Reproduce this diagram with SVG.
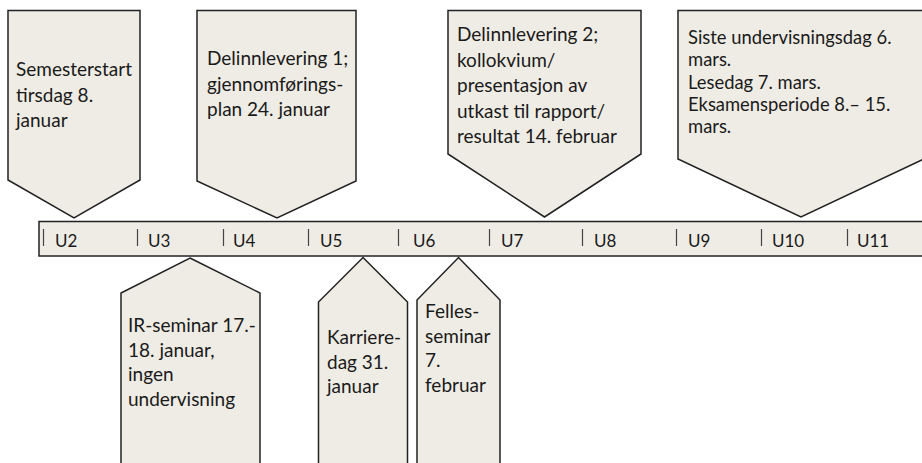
<svg xmlns="http://www.w3.org/2000/svg" width="922" height="463" viewBox="0 0 922 463">
<style>
.shape{fill:#EFECE5;stroke:#222;stroke-width:1.5;stroke-linejoin:miter}
.t{font-family:Lato,"Open Sans",sans-serif;font-size:19px;fill:#1a1a1a}
.t4{font-size:18.4px}
.u{font-family:Lato,"Open Sans",sans-serif;font-size:17px;fill:#1a1a1a}
.tick{stroke:#444;stroke-width:1.2}
</style>
<rect width="922" height="463" fill="#fff"/>
<g id="timeline">
<rect class="shape" x="39" y="221.5" width="900" height="34.5"/>
<g id="ticks">
<line class="tick" x1="43.5" y1="229" x2="43.5" y2="246"/>
<line class="tick" x1="137.5" y1="229" x2="137.5" y2="246"/>
<line class="tick" x1="223.5" y1="229" x2="223.5" y2="246"/>
<line class="tick" x1="308.5" y1="229" x2="308.5" y2="246"/>
<line class="tick" x1="398.5" y1="229" x2="398.5" y2="246"/>
<line class="tick" x1="489.5" y1="229" x2="489.5" y2="246"/>
<line class="tick" x1="582.5" y1="229" x2="582.5" y2="246"/>
<line class="tick" x1="676.5" y1="229" x2="676.5" y2="246"/>
<line class="tick" x1="761.5" y1="229" x2="761.5" y2="246"/>
<line class="tick" x1="847.5" y1="229" x2="847.5" y2="246"/>
</g>
<text class="u" x="55" y="247">U2</text>
<text class="u" x="148" y="247">U3</text>
<text class="u" x="233" y="247">U4</text>
<text class="u" x="320" y="247">U5</text>
<text class="u" x="413" y="247">U6</text>
<text class="u" x="501" y="247">U7</text>
<text class="u" x="594" y="247">U8</text>
<text class="u" x="688" y="247">U9</text>
<text class="u" x="772" y="247">U10</text>
<text class="u" x="857" y="247">U11</text>
</g>
<g id="semesterstart">
<polygon class="shape" points="8,10.5 140,10.5 140,180 74,218 8,180"/>
<text class="t"><tspan x="16" y="76">Semesterstart</tspan><tspan x="16" y="101.5">tirsdag 8.</tspan><tspan x="16" y="127">januar</tspan></text>
</g>
<g id="delinnlevering1">
<polygon class="shape" points="197,10.5 356,10.5 356,181 277,218 197,181"/>
<text class="t"><tspan x="207" y="65">Delinnlevering 1;</tspan><tspan x="207" y="90.5">gjennomførings-</tspan><tspan x="207" y="116">plan 24. januar</tspan></text>
</g>
<g id="delinnlevering2">
<polygon class="shape" points="448,10.5 641,10.5 641,154 544.5,217 448,154"/>
<text class="t"><tspan x="457" y="41">Delinnlevering 2;</tspan><tspan x="457" y="66.5">kollokvium/</tspan><tspan x="457" y="92">presentasjon av</tspan><tspan x="457" y="117.5">utkast til rapport/</tspan><tspan x="457" y="143">resultat 14. februar</tspan></text>
</g>
<g id="siste">
<polygon class="shape" points="678,10.5 924,10.5 924,159 801,217 678,159"/>
<text class="t t4"><tspan x="688" y="44">Siste undervisningsdag 6.</tspan><tspan x="688" y="66.3">mars.</tspan><tspan x="688" y="88.6">Lesedag 7. mars.</tspan><tspan x="688" y="110.9">Eksamensperiode 8.– 15.</tspan><tspan x="688" y="133.2">mars.</tspan></text>
</g>
<g id="irseminar">
<polygon class="shape" points="190,258 260,293 260,470 121,470 121,293"/>
<text class="t"><tspan x="128" y="332">IR-seminar 17.-</tspan><tspan x="128" y="356.5">18. januar,</tspan><tspan x="128" y="381">ingen</tspan><tspan x="128" y="405.5">undervisning</tspan></text>
</g>
<g id="karrieredag">
<polygon class="shape" points="363,257.5 407.5,302 407.5,470 318.5,470 318.5,302"/>
<text class="t"><tspan x="327" y="344">Karriere-</tspan><tspan x="327" y="368.5">dag 31.</tspan><tspan x="327" y="393">januar</tspan></text>
</g>
<g id="fellesseminar">
<polygon class="shape" points="458.5,257.5 500,300 500,470 417,470 417,300"/>
<text class="t"><tspan x="425" y="318">Felles-</tspan><tspan x="425" y="342.5">seminar</tspan><tspan x="425" y="367">7.</tspan><tspan x="425" y="391.5">februar</tspan></text>
</g>
</svg>
